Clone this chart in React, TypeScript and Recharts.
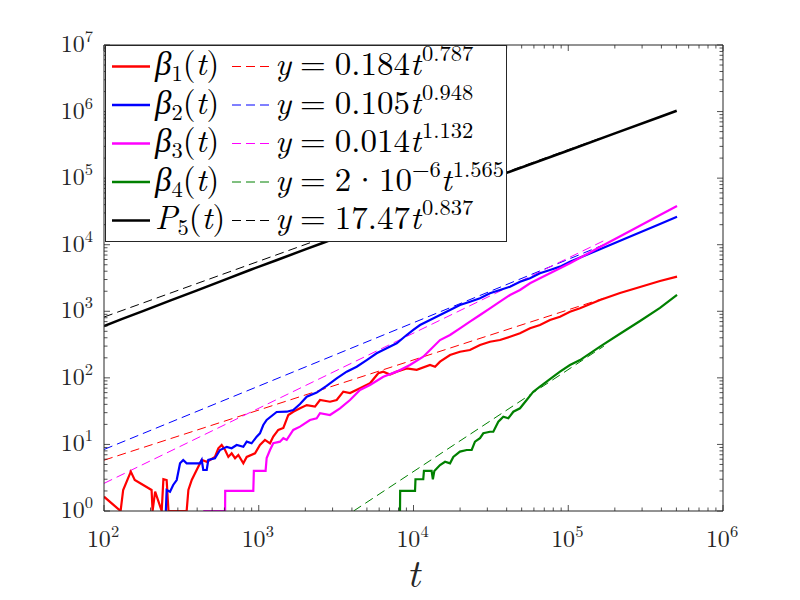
import React from 'react';
import { LineChart, Line, XAxis, YAxis, Legend } from 'recharts';

// ---------- data ----------
const beta1T = [100,128,133,149,158,203,206,214,236,242,254,261,342,351,369,397,428,461,484,521,548,576,606,636,668,703,738,795,836,946,1018,1097,1182,1241,1337,1442,1553,1671,1848,2042,2309,2488,2886,3189,3518,3890,4510,5235,5922,6380,7050,7786,9035,10490,12790,13780,14840,17220,19960,23160,26900,31190,36200,42050,48780,56620,65650,76200,88450,102600,119100,160400,216000,291000,391600,504500];
const beta1V = [1.64,1,2.07,3.9,2.92,2.07,1,1.95,1,3.0,2.92,1,1,2.07,2.92,4.13,5.84,5.5,5.84,6.5,8.75,9.8,8.25,6.5,7.36,6.2,6.93,5.2,6.5,7.36,9.8,11.7,10.4,13.1,16.5,17.7,27.7,31,34.9,39,37,46.5,43.8,46.5,62,59,69.7,82.9,117,124,112,124,139,132,156,147,175,220,247,262,312,349,370,415,467,555,622,740,830,986,1109,1479,1884,2316,2851,3310];

const beta2T = [251,254,267,280,295,310,325,342,417,428,438,461,472,521,562,621,668,720,795,836,899,970,1018,1070,1125,1305,1516,1671,1848,2042,2368,2746,3189,3700,4295,4985,5780,6710,7786,9035,9970,11020,12790,14840,17220,19960,23160,26900,31190,36200,42050,48780,56620,65650,76200,88450,102600,160400,238400,391600,504500];
const beta2V = [1,2.07,1.95,2.46,2.92,5.2,5.84,5.2,5.2,5.84,4.13,4.13,5.84,6.2,8.25,9.2,8.75,9.8,9.2,11,10.4,13.1,14.7,19.6,23.3,30.7,31,32.9,40.5,52,60,76,98.5,124,147,185,234,278,331,440,524,622,740,880,1045,1243,1394,1567,1862,2089,2340,2782,3131,3720,4170,4680,5560,8530,12620,20470,26360];

const beta3T = [438,606,607,922,930,1107,1125,1182,1241,1371,1442,1516,1671,1848,2143,2368,2488,2886,3350,3890,4510,5235,6380,7786,9480,11560,12790,14840,17220,19960,23160,26900,31190,36200,42050,48780,56620,65650,76200,88450,102600,160400,251000,391600,504500];
const beta3V = [1,1,2,2,4,4,6.25,8.25,10.4,11,12.4,11.7,16.5,18.5,23.3,24.7,29.4,27.7,34.9,46.5,65.7,78.1,104,124,156,208,262,370,440,555,698,880,1109,1394,1756,2089,2633,3131,3720,4424,5260,9250,16070,27940,38190];

const beta4T = [8180,8200,10230,10300,11560,11680,13090,13340,13640,14840,15990,17220,18080,19960,22070,23770,24960,26900,28250,31190,32790,35330,38050,41000,44170,48780,53860,59460,65650,72510,80040,88450,102600,119100,160400,216000,291000,391600,504500];
const beta4V = [1,2,2,3,3,4,4,3,4,4.9,5.5,5.2,6.5,7.8,8.25,8.25,11,12.4,14.7,15.5,15.5,21.9,26.1,24.7,31,34.9,46.5,62,73.7,87.5,104,124,156,185,295,459,715,1122,1757];

const p5T = [100,130,180,267,400,600,878,1300,2000,2612,4000,8180,15000,40360,100000,200000,390000,502300];
const p5V = [601,761,1014,1443,2066,2960,4170,5850,8510,10720,15630,29440,50350,120800,260000,470000,828000,1030000];

// fitted power laws (end points as seen in the picture)
const fit1T = [100, 170000];
const fit1V = [5.8, 1570];
const fit2T = [100, 170000];
const fit2V = [8.4, 10000];
const fit3T = [100, 170000];
const fit3V = [2.6, 11500];
const fit4T = [4100, 170000];
const fit4V = [1, 300];
const fit5T = [100, 170000];
const fit5V = [820, 417000];

// legend texts
const seriesSym = ['β', 'β', 'β', 'β', 'P'];
const seriesSub = ['1', '2', '3', '4', '5'];
const fitCoef = ['0.184', '0.105', '0.014', '2·10', '17.47'];
const fitCoefSup = ['', '', '', '−6', ''];
const fitExp = ['0.787', '0.948', '1.132', '1.565', '0.837'];

const xMajor = [100, 1000, 10000, 100000, 1000000];
const yMajor = [1, 10, 100, 1000, 10000, 100000, 1000000, 10000000];
const xTitle = 't';

// ---------- styling ----------
const RED = '#ff0000';
const BLUE = '#0000ff';
const MAGENTA = '#ff00ff';
const GREEN = '#008000';
const BLACK = '#000000';
const colors = [RED, BLUE, MAGENTA, GREEN, BLACK];
const AX = '#262626';
const FONT = '"Latin Modern Roman", "Liberation Serif", serif';

const zip = (t: number[], v: number[]) => t.map((tt, i) => ({ t: tt, v: v[i] }));
const withMinors = (majors: number[]) => {
  const out: number[] = [];
  majors.forEach((m, i) => {
    out.push(m);
    if (i < majors.length - 1) for (let k = 2; k <= 9; k++) out.push(m * k);
  });
  return out;
};
const xTicks = withMinors(xMajor);
const yTicks = withMinors(yMajor);

const decade = (v: number) => {
  const lg = Math.log10(v);
  const e = Math.round(lg);
  return { e, major: Math.abs(lg - e) < 1e-6 };
};

const MAJ = 6;
const MIN = 3.5;
const TICK_FS = 24;
const TICK_SUP = 16.5;

const BottomTick = (p: any) => {
  const { x, y, payload } = p;
  const { e, major } = decade(payload.value);
  return (
    <g>
      <line x1={x} x2={x} y1={y} y2={y - (major ? MAJ : MIN)} stroke={AX} strokeWidth={0.8} />
      {major && (
        <text x={x - 1} y={y + 36} textAnchor="middle" fontFamily={FONT} fontSize={TICK_FS} fill={AX}>
          10<tspan dy={-10} fontSize={TICK_SUP}>{e}</tspan>
        </text>
      )}
    </g>
  );
};
const TopTick = (p: any) => {
  const { x, y, payload } = p;
  const { major } = decade(payload.value);
  return <line x1={x} x2={x} y1={y} y2={y + (major ? MAJ : MIN)} stroke={AX} strokeWidth={0.8} />;
};
const LeftTick = (p: any) => {
  const { x, y, payload } = p;
  const { e, major } = decade(payload.value);
  return (
    <g>
      <line x1={x} x2={x + (major ? MAJ : MIN)} y1={y} y2={y} stroke={AX} strokeWidth={0.8} />
      {major && (
        <text x={x - 11} y={y + 7} textAnchor="end" fontFamily={FONT} fontSize={TICK_FS} fill={AX}>
          10<tspan dy={-10} fontSize={TICK_SUP}>{e}</tspan>
        </text>
      )}
    </g>
  );
};
const RightTick = (p: any) => {
  const { x, y, payload } = p;
  const { major } = decade(payload.value);
  return <line x1={x} x2={x - (major ? MAJ : MIN)} y1={y} y2={y} stroke={AX} strokeWidth={0.8} />;
};

const LFS = 33; // legend font size
const LSUP = 22.5; // legend script size

const Coef = ({ s }: { s: string }) => {
  if (s.indexOf('·') < 0) return <tspan dx={9}>{s}</tspan>;
  const [a, b] = s.split('·');
  return (
    <>
      <tspan dx={9}>{a}</tspan>
      <tspan dx={1}>·</tspan>
      <tspan dx={1}>{b}</tspan>
    </>
  );
};

const MathLegend = () => (
  <svg width={402} height={197} style={{ display: 'block' }}>
    <rect x={0.5} y={0.5} width={401} height={196} fill="#fff" stroke={AX} strokeWidth={1} />
    {colors.map((c, i) => {
      const cy = 21.5 + 38.5 * i;
      const base = cy + 8.5;
      return (
        <g key={i}>
          <line x1={7} x2={45} y1={cy} y2={cy} stroke={c} strokeWidth={2.5} />
          <line x1={127} x2={168} y1={cy} y2={cy} stroke={c} strokeWidth={1} strokeDasharray="9 5" />
          <text x={50} y={base} fontFamily={FONT} fontSize={LFS} fill="#000">
            <tspan fontStyle="italic">{seriesSym[i]}</tspan>
            <tspan fontSize={LSUP} dy={6}>{seriesSub[i]}</tspan>
            <tspan dy={-6}>(</tspan>
            <tspan fontStyle="italic">t</tspan>
            <tspan>)</tspan>
          </text>
          <text x={170} y={base} fontFamily={FONT} fontSize={LFS} fill="#000">
            <tspan fontStyle="italic">y</tspan>
            <tspan dx={9}>=</tspan>
            <Coef s={fitCoef[i]} />
            {fitCoefSup[i] ? (
              <tspan fontSize={LSUP} dy={-14}>{fitCoefSup[i]}</tspan>
            ) : null}
            <tspan fontStyle="italic" dy={fitCoefSup[i] ? 14 : 0}>t</tspan>
            <tspan fontSize={LSUP} dy={-14} dx={1}>{fitExp[i]}</tspan>
          </text>
        </g>
      );
    })}
  </svg>
);

const solid = [
  { d: zip(beta1T, beta1V), c: RED, w: 2.2 },
  { d: zip(beta2T, beta2V), c: BLUE, w: 2.2 },
  { d: zip(beta3T, beta3V), c: MAGENTA, w: 2.2 },
  { d: zip(beta4T, beta4V), c: GREEN, w: 2.2 },
  { d: zip(p5T, p5V), c: BLACK, w: 2.5 },
];
const dashed = [
  { d: zip(fit1T, fit1V), c: RED },
  { d: zip(fit2T, fit2V), c: BLUE },
  { d: zip(fit3T, fit3V), c: MAGENTA },
  { d: zip(fit4T, fit4V), c: GREEN },
  { d: zip(fit5T, fit5V), c: BLACK },
];

const XTitle = (props: any) => {
  const vb = props.viewBox || {};
  return (
    <text
      x={vb.x + vb.width / 2}
      y={vb.y + 76}
      textAnchor="middle"
      fontFamily={FONT}
      fontStyle="italic"
      fontSize={40}
      fill={AX}
    >
      {xTitle}
    </text>
  );
};

export default function App() {
  return (
    <div style={{ position: 'absolute', left: 0, top: 0, width: 800, height: 600, background: '#fff' }}>
      <LineChart width={800} height={600} margin={{ top: 40, right: 72, bottom: 9, left: 34 }}>
        <XAxis
          xAxisId={0}
          dataKey="t"
          type="number"
          scale="log"
          domain={[100, 1000000]}
          allowDataOverflow
          ticks={xTicks}
          interval={0}
          tickSize={0}
          tickMargin={0}
          tickLine={false}
          height={80}
          axisLine={{ stroke: AX, strokeWidth: 1 }}
          tick={(p: any) => <BottomTick {...p} />}
          label={(p: any) => <XTitle {...p} />}
        />
        <XAxis
          xAxisId="top"
          orientation="top"
          dataKey="t"
          type="number"
          scale="log"
          domain={[100, 1000000]}
          allowDataOverflow
          ticks={xTicks}
          interval={0}
          tickSize={0}
          tickMargin={0}
          tickLine={false}
          height={5}
          axisLine={{ stroke: AX, strokeWidth: 1 }}
          tick={(p: any) => <TopTick {...p} />}
        />
        <YAxis
          yAxisId={0}
          type="number"
          scale="log"
          domain={[1, 10000000]}
          allowDataOverflow
          ticks={yTicks}
          interval={0}
          tickSize={0}
          tickMargin={0}
          tickLine={false}
          width={70}
          axisLine={{ stroke: AX, strokeWidth: 1 }}
          tick={(p: any) => <LeftTick {...p} />}
        />
        <YAxis
          yAxisId="right"
          orientation="right"
          type="number"
          scale="log"
          domain={[1, 10000000]}
          allowDataOverflow
          ticks={yTicks}
          interval={0}
          tickSize={0}
          tickMargin={0}
          tickLine={false}
          width={5}
          axisLine={{ stroke: AX, strokeWidth: 1 }}
          tick={(p: any) => <RightTick {...p} />}
        />
        {dashed.map((s, i) => (
          <Line
            key={'d' + i}
            data={s.d}
            dataKey="v"
            type="linear"
            stroke={s.c}
            strokeWidth={1}
            strokeDasharray="9 5"
            dot={false}
            activeDot={false}
            isAnimationActive={false}
          />
        ))}
        {solid.map((s, i) => (
          <Line
            key={'s' + i}
            data={s.d}
            dataKey="v"
            type="linear"
            stroke={s.c}
            strokeWidth={s.w}
            dot={false}
            activeDot={false}
            isAnimationActive={false}
          />
        ))}
        <Line
          data={zip(p5T, p5V)}
          xAxisId="top"
          yAxisId="right"
          dataKey="v"
          stroke="none"
          dot={false}
          activeDot={false}
          legendType="none"
          isAnimationActive={false}
        />
        <Legend
          layout="vertical"
          align="center"
          verticalAlign="middle"
          wrapperStyle={{ left: 105, top: 45, width: 402, height: 197 }}
          content={() => <MathLegend />}
        />
      </LineChart>
    </div>
  );
}
